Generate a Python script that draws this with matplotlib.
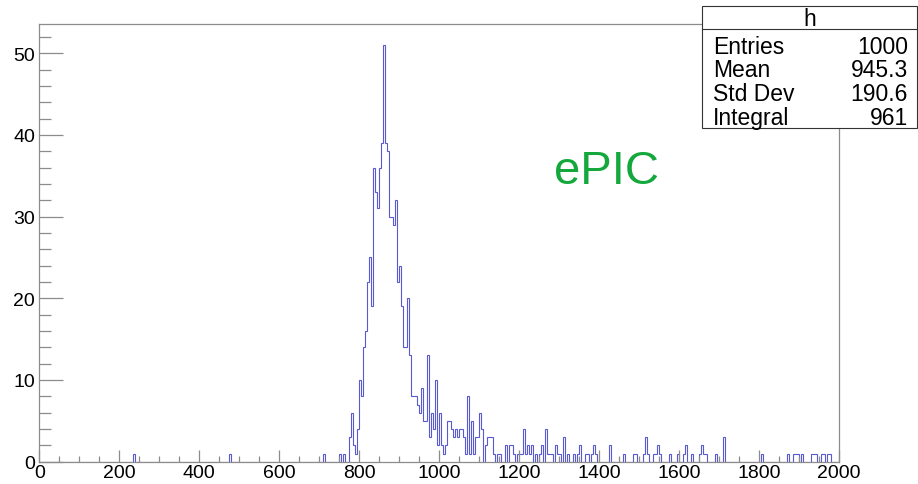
import numpy as np
import matplotlib.pyplot as plt
from matplotlib.patches import Rectangle
from matplotlib.lines import Line2D
from matplotlib.ticker import MultipleLocator

# -----------------------
# Plot styling (ROOT-like look)
# -----------------------
plt.rcParams['font.family'] = ['Liberation Sans', 'DejaVu Sans']

# -----------------------
# Histogram "h": 400 bins of width 5 on [0, 2000]
# -----------------------
n_bins = 400
x_min, x_max = 0, 2000

# consecutive bins of the main peak, starting at 775
peak_start = 775
peak_counts = [3, 6, 2, 1, 4, 10, 8, 14, 16, 22, 25, 19, 36, 33, 31, 36, 39, 51,
               39, 38, 30, 30, 29, 32, 22, 24, 19, 14, 14, 20, 13, 8, 8, 8, 7, 6,
               9, 5, 5, 13, 3, 6, 4, 10, 2, 6, 2, 1, 2, 5, 5, 4, 3, 4, 3, 4, 4,
               3, 1, 8, 1, 5, 1, 3, 3, 6, 4, 0, 2, 3, 3, 3]

# isolated filled bins outside the peak (lower edge, content)
lone_edges = [235, 475, 710, 750, 760,
              1135, 1145, 1150, 1165, 1175, 1180, 1185, 1195, 1200, 1205,
              1210, 1215, 1220, 1225, 1230, 1240, 1250, 1255, 1265, 1270,
              1275, 1280, 1290, 1295, 1300, 1310, 1320, 1335, 1345, 1350,
              1365, 1370, 1380, 1385, 1390, 1425, 1460, 1485, 1490, 1510,
              1515, 1520, 1535, 1540, 1545, 1550, 1575, 1595, 1610, 1615,
              1630, 1650, 1655, 1660, 1665, 1690, 1710, 1805, 1870, 1885,
              1890, 1895, 1905, 1930, 1935, 1940, 1955, 1960, 1970, 1975]
lone_counts = [1, 1, 1, 1, 1,
               1, 1, 1, 2, 2, 2, 1, 1, 1, 1,
               4, 1, 2, 1, 2, 1, 1, 2, 4, 1,
               1, 1, 2, 1, 1, 3, 1, 1, 1, 2,
               1, 1, 1, 2, 1, 2, 1, 1, 1, 1,
               3, 1, 1, 1, 2, 1, 1, 1, 1, 2,
               1, 1, 2, 1, 1, 1, 3, 1, 1, 1,
               1, 1, 1, 1, 1, 1, 1, 1, 1, 1]

stat_names = ["Entries", "Mean", "Std Dev", "Integral"]
stat_values = ["1000", "945.3", "190.6", "961"]

# -----------------------
# Fill the bin contents
# -----------------------
bin_w = (x_max - x_min) / n_bins
edges = np.linspace(x_min, x_max, n_bins + 1)
counts = np.zeros(n_bins)
i0 = int((peak_start - x_min) / bin_w)
counts[i0:i0 + len(peak_counts)] = peak_counts
for e, c in zip(lone_edges, lone_counts):
    counts[int((e - x_min) / bin_w)] = c

# -----------------------
# Figure and frame
# -----------------------
fig = plt.figure(figsize=(9.18, 4.85), dpi=100)
ax = fig.add_axes([0.0428, 0.046, 0.8712, 0.902])

ax.stairs(counts, edges, color='#5a5ad0', linewidth=0.8)

ax.set_xlim(x_min, x_max)
ax.set_ylim(0, counts.max() * 1.05)

frame_col = '#8c8c8c'
for sp in ax.spines.values():
    sp.set_color(frame_col)
    sp.set_linewidth(0.9)

ax.xaxis.set_major_locator(MultipleLocator(200))
ax.xaxis.set_minor_locator(MultipleLocator(50))
ax.yaxis.set_major_locator(MultipleLocator(10))
ax.yaxis.set_minor_locator(MultipleLocator(2))

ax.tick_params(which='both', direction='in', color=frame_col, width=0.9,
               top=False, right=False, labelsize=14)
ax.tick_params(axis='x', which='major', length=9, pad=2)
ax.tick_params(axis='x', which='minor', length=4.5)
ax.tick_params(axis='y', which='major', length=17, pad=3)
ax.tick_params(axis='y', which='minor', length=8.6)

# -----------------------
# Experiment tag
# -----------------------
fig.text(0.6035, 0.6206, "ePIC", color='#14a83c', fontsize=34,
         ha='left', va='baseline')

# -----------------------
# Statistics box
# -----------------------
box_l, box_r = 0.7644, 0.9989
box_b, box_t = 0.734, 0.986
sep_y = 0.938
fig.add_artist(Rectangle((box_l, box_b), box_r - box_l, box_t - box_b,
                         transform=fig.transFigure, facecolor='white',
                         edgecolor='#333333', linewidth=0.8, zorder=5))
fig.add_artist(Line2D([box_l, box_r], [sep_y, sep_y], transform=fig.transFigure,
                      color='#333333', linewidth=0.8, zorder=6))
fig.text((box_l + box_r) / 2, (sep_y + box_t) / 2 - 0.003, "h", fontsize=16.5,
         ha='center', va='center', zorder=7)

row_y = np.linspace(0.903, 0.756, len(stat_names))
for name, val, y in zip(stat_names, stat_values, row_y):
    fig.text(box_l + 0.012, y, name, fontsize=16.5, ha='left', va='center', zorder=7)
    fig.text(box_r - 0.010, y, val, fontsize=16.5, ha='right', va='center', zorder=7)

fig.savefig("out.png", dpi=100)
